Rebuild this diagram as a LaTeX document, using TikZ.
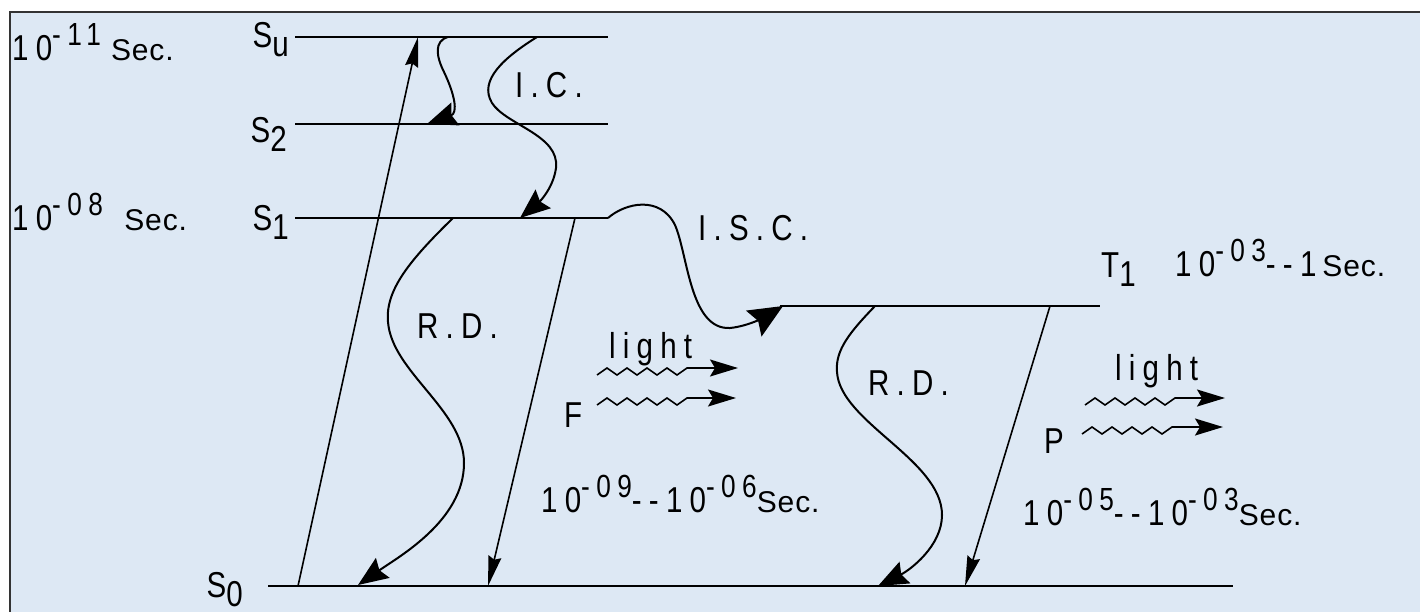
\documentclass[tikz,border=0pt]{standalone}
\usepackage{fontspec}
\setmainfont[FakeStretch=0.82,LetterSpace=20]{Liberation Sans}
\newfontfamily\secfont[LetterSpace=3]{Liberation Sans}
\usetikzlibrary{arrows.meta}
\definecolor{bgblue}{HTML}{DDE8F4}
\definecolor{framegray}{HTML}{333333}
\newcommand\pw[1]{\raisebox{15pt}{\fontsize{32}{34}\selectfont #1}}
\newcommand\lw[1]{\raisebox{-9pt}{#1}}
\newcommand\secx{{\secfont\fontsize{30}{32}\selectfont Sec.}}
\begin{document}
\begin{tikzpicture}[x=1pt,y=-1pt,
  lbl/.style={font=\fontsize{36}{40}\selectfont, inner sep=0pt},
  level/.style={line width=2.4pt},
  wavy/.style={line width=2pt, -{Stealth[length=30pt,width=24pt,inset=4pt]}},
  bigwavy/.style={line width=2pt, -{Stealth[length=34pt,width=30pt,inset=5pt]}},
  radiative/.style={line width=1.6pt, -{Stealth[length=30pt,width=13pt,inset=3pt]}},
  photon/.style={line width=1.6pt, -{Stealth[length=28pt,width=17pt,inset=5pt]}}]
\useasboundingbox (0,0) rectangle (1420,611);
\fill[white] (0,0) rectangle (1420,611);
\draw[line width=2.2pt, draw=framegray, fill=bgblue] (10,12) rectangle (1440,640);

% energy levels
\coordinate (SuL) at (295,37);  \coordinate (SuR) at (608,37);
\coordinate (StL) at (295,124); \coordinate (StR) at (608,124);
\coordinate (SoL) at (295,218); \coordinate (SoR) at (608,218);
\coordinate (TL)  at (780,306); \coordinate (TR)  at (1100,306);
\coordinate (GL)  at (268,586); \coordinate (GR)  at (1233,586);
\draw[level] (SuL) -- (SuR);
\draw[level] (StL) -- (StR);
\draw[level] (SoL) -- (SoR);
\draw[level] (TL) -- (TR);
\draw[level] (GL) -- (GR);

% level labels
\node[lbl, anchor=base east] (lSu) at (289,47)  {S\lw{u}};
\node[lbl, anchor=base east] (lS2) at (287,142) {S\lw{2}};
\node[lbl, anchor=base east] (lS1) at (289,230) {S\lw{1}};
\node[lbl, anchor=base east] (lS0) at (243,597) {S\lw{0}};
\node[lbl, anchor=base west] (lT1) at (1101,277) {T\lw{1}};

% time labels
\node[lbl, anchor=base west] (tSu) at (12,60)  {10\pw{-11}\;\secx};
\node[lbl, anchor=base west] (tS1) at (12,230) {10\pw{-08}\, \secx};
\node[lbl, anchor=base west] (tT1) at (1175,276) {10\pw{-03}-{}-1\,\secx};
\node[lbl, anchor=base west] (tF)  at (541,512) {10\pw{-09}-{}-10\pw{-06}\secx};
\node[lbl, anchor=base west] (tP)  at (1023,525) {10\pw{-05}-{}-10\pw{-03}\secx};

% process labels
\node[lbl, anchor=base west] (lIC)  at (515,97)  {I.C.};
\node[lbl, anchor=base west] (lISC) at (698,240) {I.S.C.};
\node[lbl, anchor=base west] (lRD1) at (417,338) {R.D.};
\node[lbl, anchor=base west] (lRD2) at (868,395) {R.D.};
\node[lbl, anchor=base west] (lF)   at (564,427) {F};
\node[lbl, anchor=base west] (lP)   at (1044,453) {P};
\node[lbl, anchor=base west] (lgF)  at (609,358) {light};
\node[lbl, anchor=base west] (lgP)  at (1115,380) {light};

% absorption
\coordinate (abs0) at (298,586); \coordinate (abs1) at (418,37);
\draw[radiative] (abs0) -- (abs1);

% internal conversions
\coordinate (ic1a) at (448,37); \coordinate (ic1b) at (427,124);
\draw[wavy] (ic1a) .. controls (434,41) and (436,56) .. (444,72)
  .. controls (455,95) and (458,113) .. (ic1b);
\coordinate (ic2a) at (537,37); \coordinate (ic2b) at (520,218);
\draw[wavy] (ic2a) .. controls (505,57) and (478,80) .. (492,103)
  .. controls (506,125) and (560,135) .. (556,168)
  .. controls (553,190) and (537,204) .. (ic2b);

% radiationless decay from S1
\coordinate (rd1a) at (453,218); \coordinate (rd1b) at (358,585);
\draw[wavy] (rd1a) .. controls (410,260) and (385,290) .. (388,322)
  .. controls (392,372) and (464,410) .. (464,463)
  .. controls (464,520) and (400,556) .. (rd1b);

% fluorescence
\coordinate (fl0) at (575,218); \coordinate (fl1) at (488,586);
\draw[radiative] (fl0) -- (fl1);

% intersystem crossing
\coordinate (isc0) at (608,218); \coordinate (isc1) at (783,306);
\draw[bigwavy] (isc0) .. controls (625,203) and (660,195) .. (675,225)
  .. controls (688,255) and (690,330) .. (730,328)
  .. controls (750,326) and (768,315) .. (isc1);

% radiationless decay from T1
\coordinate (rd2a) at (875,306); \coordinate (rd2b) at (878,586);
\draw[wavy] (rd2a) .. controls (850,332) and (835,350) .. (837,372)
  .. controls (840,422) and (942,460) .. (942,515)
  .. controls (942,546) and (910,570) .. (rd2b);

% phosphorescence
\coordinate (ph0) at (1050,306); \coordinate (ph1) at (965,586);
\draw[radiative] (ph0) -- (ph1);

% emitted light
\foreach \nm/\sx/\y/\tip in {fA/597/368/738, fB/597/398/736, pA/1085/398/1225, pB/1082/427/1223}{
  \coordinate (\nm s) at (\sx,\y+7);
  \coordinate (\nm t) at (\tip,\y);
  \draw[photon, line join=miter] (\nm s) -- ++(10,-7) -- ++(10,7) -- ++(10,-7) -- ++(10,7)
    -- ++(10,-7) -- ++(10,7) -- ++(10,-7) -- ++(10,7) -- ++(10,-7) -- (\nm t);
}
\end{tikzpicture}
\end{document}
